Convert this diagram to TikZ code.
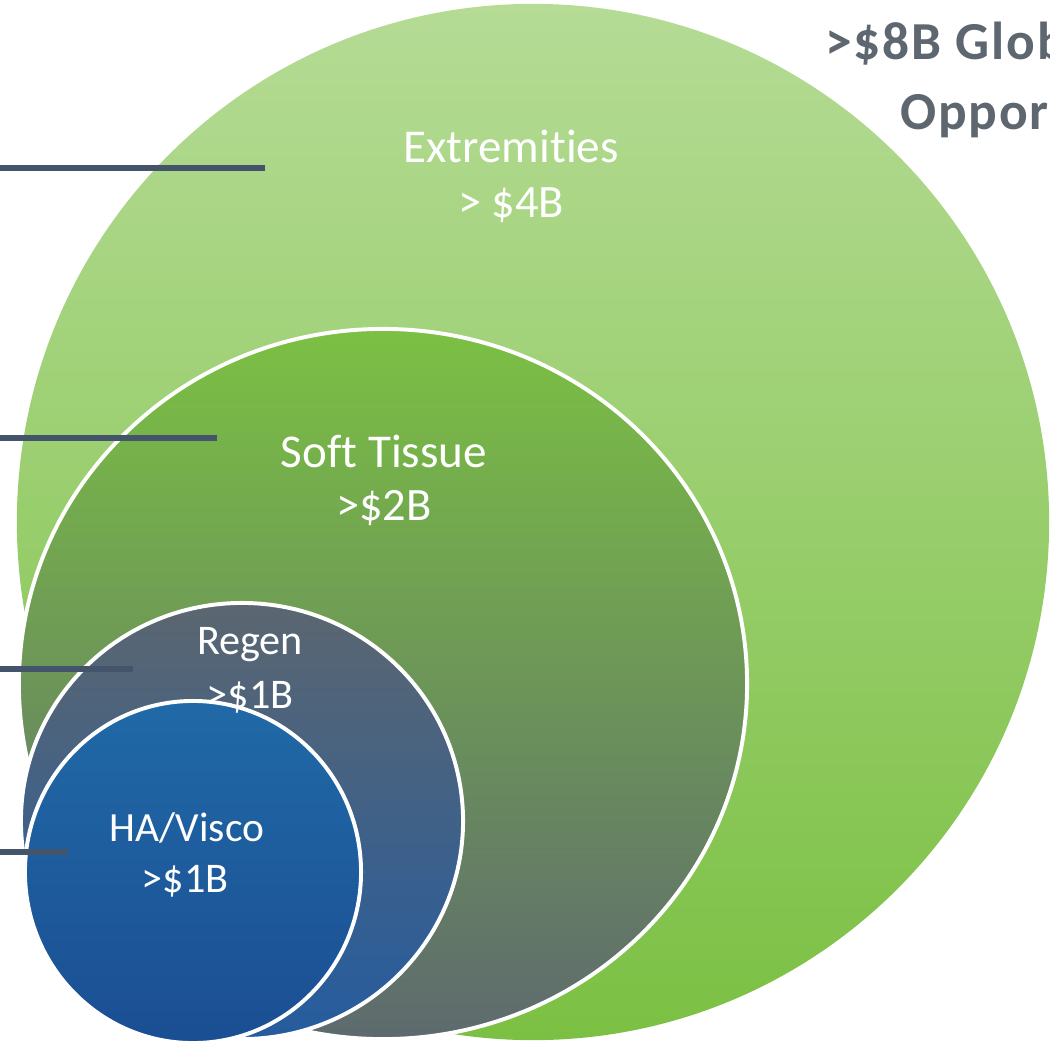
\documentclass[tikz,border=0pt]{standalone}
\usepackage{fontspec}
\setmainfont{Carlito}[Ligatures=CommonOff]
\newfontfamily\totalfont{Carlito}[LetterSpace=3.5]
\usetikzlibrary{shapes.geometric}
\definecolor{leadcol}{HTML}{44546A}
\definecolor{titlecol}{HTML}{5E6670}
\definecolor{extTop}{HTML}{B5DB95}
\definecolor{extBot}{HTML}{7BC043}
\definecolor{softTop}{HTML}{7BC043}
\definecolor{softBot}{HTML}{5E6A6E}
\definecolor{regenTop}{HTML}{5B6670}
\definecolor{regenBot}{HTML}{255C9F}
\definecolor{haTop}{HTML}{2069A7}
\definecolor{haBot}{HTML}{1B4E93}
\begin{document}
\begin{tikzpicture}[x=0.025cm, y=-0.025cm,
    bubble/.style={ellipse, inner sep=0pt, outer sep=0pt},
    rim/.style={draw=white, line width=2.8pt},
    leader/.style={draw=leadcol, line width=3.6pt},
    lbl/.style={text=white, inner sep=0pt, font=\fontsize{#1}{#1}\selectfont},
    total/.style={anchor=base west, inner sep=0pt, text=titlecol, font=\totalfont\fontsize{38}{38}\selectfont\bfseries}]
  \useasboundingbox (0,0) rectangle (1050,1044);
  \clip (0,0) rectangle (1050,1044);

  % nested markets
  \node[bubble, top color=extTop, bottom color=extBot, minimum width=25.8cm, minimum height=25.9cm] (ext) at (533,522) {};
  \node[bubble, rim, top color=softTop, bottom color=softBot, minimum width=18.2cm, minimum height=17.75cm] (soft) at (383,684) {};
  \node[bubble, rim, top color=regenTop, bottom color=regenBot, minimum width=11.05cm, minimum height=10.9cm] (regen) at (242,821) {};
  \node[bubble, rim, top color=haTop, bottom color=haBot, minimum width=8.4cm, minimum height=8.55cm] (ha) at (193,872) {};

  % leader lines
  \coordinate (ext-l) at (0,168);
  \coordinate (ext-r) at (265,168);
  \coordinate (soft-l) at (0,438);
  \coordinate (soft-r) at (217,438);
  \coordinate (regen-l) at (0,669);
  \coordinate (regen-r) at (133,669);
  \coordinate (ha-l) at (0,852);
  \coordinate (ha-r) at (68,852);
  \draw[leader] (ext-l) -- (ext-r);
  \draw[leader] (soft-l) -- (soft-r);
  \draw[leader] (regen-l) -- (regen-r);
  \draw[leader] (ha-l) -- (ha-r);

  % labels
  \node[lbl=33.5] (ext-name) at (511,146) {Extremities};
  \node[lbl=33] (ext-size) at (511,205) {> \$4B};
  \node[lbl=33.5] (soft-name) at (384,451) {Soft Tissue};
  \node[lbl=33] (soft-size) at (384,508) {>\$2B};
  \node[lbl=30] (regen-name) at (250,645) {Regen};
  \node[lbl=30] (regen-size) at (250,697) {>\$1B};
  \node[lbl=29.5] (ha-name) at (187,828) {HA/Visco};
  \node[lbl=30] (ha-size) at (185,881) {>\$1B};

  % total
  \node[total] (total-a) at (825,60) {>\$8B Global};
  \node[total] (total-b) at (900,130) {Opportunity};
\end{tikzpicture}
\end{document}
